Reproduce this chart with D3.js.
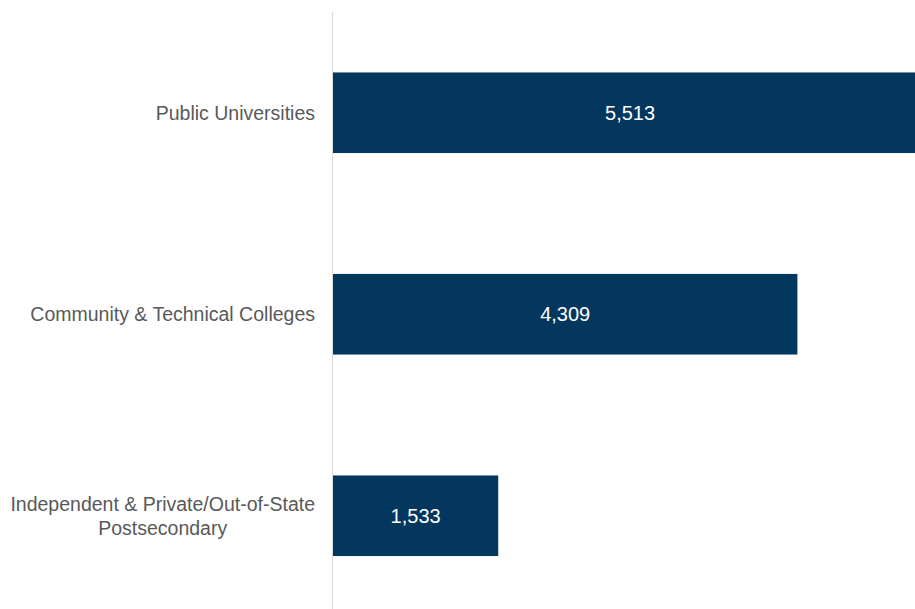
<!DOCTYPE html>
<html>
<head>
<meta charset="utf-8">
<script src="https://cdn.jsdelivr.net/npm/d3@7"></script>
<style>
  body { margin: 0; background: #fff; }
  svg { display: block; font-family: "Liberation Sans", Arial, sans-serif; }
</style>
</head>
<body>
<svg id="canvas" width="915" height="609"></svg>
<script>
// Categories (top to bottom), each as label lines
var CATEGORIES = [
  ['Public Universities'],
  ['Community & Technical Colleges'],
  ['Independent & Private/Out-of-State', 'Postsecondary']
];
var VALUES = [5513, 4309, 1533];

var width = 915;
var height = 609;
var axisX = 332.5;

var canvas = d3.select('#canvas');

var x = d3.scaleLinear()
  .domain([0, 5400])
  .range([333, width]);

var y = d3.scaleBand()
  .domain(d3.range(VALUES.length))
  .range([12, 616.5])
  .paddingInner(0.6)
  .paddingOuter(0.3);

// Bars
canvas.append('g')
  .selectAll('rect')
  .data(VALUES)
  .enter()
  .append('rect')
  .attr('x', x(0))
  .attr('y', function (d, i) { return y(i); })
  .attr('width', function (d) { return x(d) - x(0); })
  .attr('height', y.bandwidth())
  .attr('fill', '#03375e');

// Value labels, centered on the bar
var fmt = d3.format(',');
canvas.append('g')
  .selectAll('text')
  .data(VALUES)
  .enter()
  .append('text')
  .attr('x', function (d) { return (x(0) + x(d)) / 2; })
  .attr('y', function (d, i) { return y(i) + y.bandwidth() / 2; })
  .attr('dy', '0.35em')
  .attr('text-anchor', 'middle')
  .attr('fill', '#ffffff')
  .style('font-size', '20px')
  .text(function (d) { return fmt(d); });

// Vertical axis line
canvas.append('line')
  .attr('x1', axisX)
  .attr('x2', axisX)
  .attr('y1', 12)
  .attr('y2', height)
  .attr('stroke', '#d9d9d9')
  .attr('stroke-width', 1);

// Category labels
var lineHeight = 24;
var labelRight = 315;
var labels = canvas.append('g')
  .selectAll('text')
  .data(CATEGORIES)
  .enter()
  .append('text')
  .attr('fill', '#595959')
  .style('font-size', '19.5px');

labels.each(function (lines, i) {
  var t = d3.select(this);
  var cy = y(i) + y.bandwidth() / 2;
  var startY = cy - (lines.length - 1) * lineHeight / 2;
  t.attr('text-anchor', lines.length > 1 ? 'middle' : 'end');
  var tx = labelRight;
  if (lines.length > 1) {
    // center the block under the widest line, which is right-aligned
    var tmp = t.append('tspan').text(lines[0]);
    var w = tmp.node().getComputedTextLength();
    tmp.remove();
    tx = labelRight - w / 2;
  }
  lines.forEach(function (line, j) {
    t.append('tspan')
      .attr('x', tx)
      .attr('y', startY + j * lineHeight)
      .attr('dy', '0.35em')
      .text(line);
  });
});
</script>
</body>
</html>
